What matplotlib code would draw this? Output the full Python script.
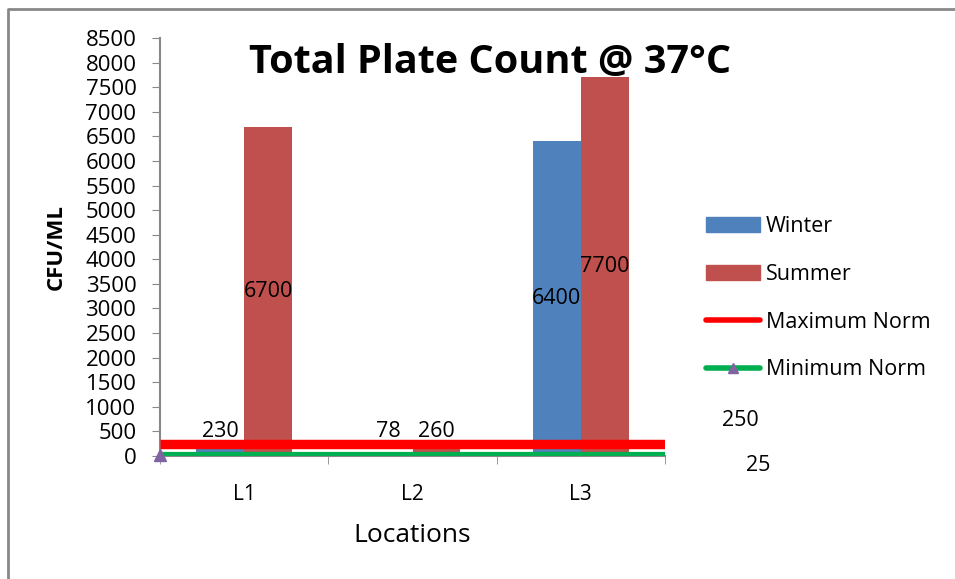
import matplotlib.pyplot as plt
import numpy as np
from matplotlib.lines import Line2D
from matplotlib.patches import Patch

locations = ['L1', 'L2', 'L3']
winter = [230, 78, 6400]
summer = [6700, 260, 7700]
max_norm = 250
min_norm = 25
yticks = list(range(0, 8501, 500))

plt.rcParams['font.family'] = ['Open Sans', 'DejaVu Sans']

c_winter = '#4F81BD'
c_summer = '#C0504D'
c_max = '#FF0000'
c_min = '#00B050'
c_mark = '#8064A2'

fig = plt.figure(figsize=(9.55, 5.79), dpi=100)
ax = fig.add_axes([160 / 955, 1 - 456 / 579, 505 / 955, 418 / 579])

x = np.arange(len(locations))
w = 0.285
ax.bar(x - w / 2, winter, w, color=c_winter, zorder=2)
ax.bar(x + w / 2, summer, w, color=c_summer, zorder=2)

# norm lines span whole plot width
ax.plot([-0.5, 2.5], [max_norm, max_norm], color=c_max, lw=6.8, zorder=3, solid_capstyle='butt')
ax.plot([-0.5, 2.5], [min_norm, min_norm], color=c_min, lw=5.2, zorder=3, solid_capstyle='butt')
ax.plot([-0.5], [min_norm], marker='^', color=c_mark, ms=8, ls='none', zorder=4, clip_on=False)

# data labels
for xs, vals in ((x - w / 2, winter), (x + w / 2, summer)):
  for xi, v in zip(xs, vals):
    yl = v / 2 if v > 1000 else 500
    ax.text(xi, yl, str(v), ha='center', va='center', fontsize=15.5, zorder=5)

ax.annotate(str(max_norm), xy=(2.5, max_norm), xytext=(54, 17), textcoords='offset points',
            ha='center', va='center', fontsize=15.5, annotation_clip=False)
ax.annotate(str(min_norm), xy=(2.5, min_norm), xytext=(67, -8), textcoords='offset points',
            ha='center', va='center', fontsize=15.5, annotation_clip=False)

ax.set_xlim(-0.5, 2.5)
ax.set_ylim(0, 8500)
ax.set_yticks(yticks)
ax.tick_params(axis='y', labelsize=16, length=6, color='#888888', pad=11)
ax.set_xticks(x)
ax.set_xticklabels(locations)
ax.set_xticks([-0.5, 0.5, 1.5, 2.5], minor=True)
ax.tick_params(axis='x', which='major', length=0, labelsize=15, pad=20)
ax.tick_params(axis='x', which='minor', length=6, color='#888888')
for s in ('top', 'right'):
  ax.spines[s].set_visible(False)
for s in ('left', 'bottom'):
  ax.spines[s].set_color('#888888')
  ax.spines[s].set_linewidth(1.5)

ax.set_xlabel('Locations', fontsize=19, labelpad=13)
ax.set_ylabel('CFU/ML', fontsize=16, fontweight='bold')
ax.yaxis.set_label_coords(-93 / 505, 0.5)

fig.text(490 / 955, 1 - 63 / 579, 'Total Plate Count @ 37°C', ha='center', va='center',
         fontsize=28.5, fontweight='bold', zorder=10)

handles = [
  Patch(color=c_winter),
  Patch(color=c_summer),
  Line2D([], [], color=c_max, lw=4, solid_capstyle='round'),
  Line2D([], [], color=c_min, lw=4, marker='^', mfc=c_mark, mec=c_mark, ms=7, solid_capstyle='round'),
]
fig.legend(handles, ['Winter', 'Summer', 'Maximum Norm', 'Minimum Norm'],
           loc='upper left', bbox_to_anchor=(695 / 955, 1 - 205 / 579), frameon=False,
           fontsize=15.5, handlelength=2.5, handletextpad=0.3, labelspacing=1.25, borderpad=0)

# chart frame
fig.add_artist(Line2D([8 / 955, 8 / 955, 1], [0, 1 - 9 / 579, 1 - 9 / 579],
                      transform=fig.transFigure, color='#888888', lw=2))

fig.savefig('out.png', dpi=100)
